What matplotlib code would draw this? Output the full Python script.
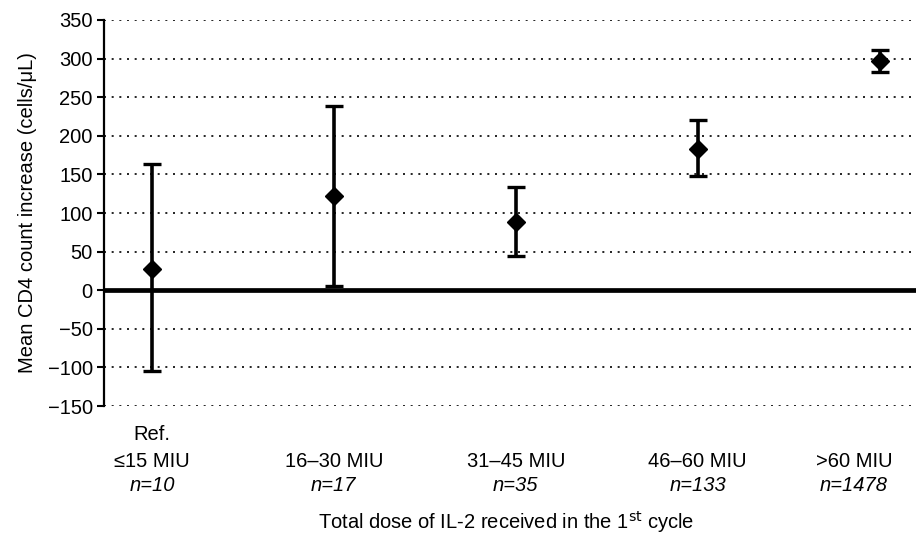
import numpy as np
import matplotlib.pyplot as plt
from matplotlib.transforms import blended_transform_factory

plt.rcParams['font.family'] = ['Liberation Sans', 'DejaVu Sans']

groups = ["\u226415 MIU", "16\u201330 MIU", "31\u201345 MIU", "46\u201360 MIU", ">60 MIU"]
n_labels = ["n=10", "n=17", "n=35", "n=133", "n=1478"]
means = [28, 122, 88, 183, 297]
upper = [164, 238, 134, 220, 311]
lower = [-105, 5, 44, 148, 282]
yticks = [-150, -100, -50, 0, 50, 100, 150, 200, 250, 300, 350]

x = np.arange(len(groups))
means = np.array(means)
yerr = [means - np.array(lower), np.array(upper) - means]

fig = plt.figure(figsize=(9.16, 5.37), dpi=100)
ax = fig.add_axes([0.1135, 0.2439, 0.8865, 0.7189])

for t in yticks:
    if t != 0:
        ax.axhline(t, color="k", linestyle=(0, (1.2, 3.4)), linewidth=1.2, zorder=1)
ax.axhline(0, color="k", linewidth=3.4, zorder=2)

ax.errorbar(x, means, yerr=yerr, fmt="D", color="k", markersize=9,
            elinewidth=2.6, capsize=6.5, capthick=2.4, zorder=3)

ax.set_xlim(-0.264, 4.2)
ax.set_ylim(-150, 350)
ax.set_yticks(yticks)
ax.set_yticklabels([str(t).replace("-", "\u2212") for t in yticks], fontsize=14.5)
ax.tick_params(axis="y", length=5, width=1.5, pad=3)
ax.set_xticks([])
for s in ["top", "right", "bottom"]:
    ax.spines[s].set_visible(False)
ax.spines["left"].set_linewidth(1.6)

# last label sits a bit left of its point so it fits in the frame
label_x = x - np.array([0, 0, 0, 0, 0.14])
trans = blended_transform_factory(ax.transData, ax.transAxes)
for i, (g, n) in enumerate(zip(groups, n_labels)):
    if i == 0:
        ax.text(label_x[i], -0.075, "Ref.", transform=trans, ha="center", va="center", fontsize=14.5)
    ax.text(label_x[i], -0.1425, g, transform=trans, ha="center", va="center", fontsize=14.5)
    ax.text(label_x[i], -0.205, n, transform=trans, ha="center", va="center", fontsize=14.5, style="italic")

ax.set_ylabel("Mean CD4 count increase (cells/\u03bcL)", fontsize=14.5, labelpad=8)
fig.text(0.552, 0.028, "Total dose of IL-2 received in the 1$^{\\rm st}$ cycle",
         ha="center", va="center", fontsize=14.5)

fig.savefig("out.png", dpi=100)
